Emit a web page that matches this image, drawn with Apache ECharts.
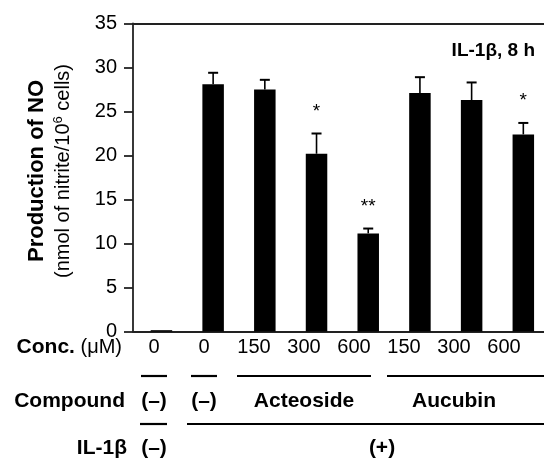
<!DOCTYPE html>
<html>
<head>
<meta charset="utf-8">
<script src="https://cdn.jsdelivr.net/npm/echarts@6/dist/echarts.min.js"></script>
<style>
  html, body { margin: 0; padding: 0; background: #fff; }
  #chart { width: 544px; height: 459px; }
</style>
</head>
<body>
<div id="chart"></div>
<script>
var FONT = '"Liberation Sans", Arial, sans-serif';

// data
var means = [0.15, 28.1, 27.5, 20.2, 11.15, 27.1, 26.3, 22.4];
var errors = [0, 1.3, 1.1, 2.3, 0.55, 1.8, 2.0, 1.3];
var stars = ['', '', '', '*', '**', '', '', '*'];
var concLabels = ['0', '0', '150', '300', '600', '150', '300', '600'];
var compoundLabels = [
  { text: '(–)', from: 0, to: 0 },
  { text: '(–)', from: 1, to: 1 },
  { text: 'Acteoside', from: 2, to: 4 },
  { text: 'Aucubin', from: 5, to: 7 }
];
var il1bLabels = [
  { text: '(–)', from: 0, to: 0 },
  { text: '(+)', from: 1, to: 7 }
];
var yTicks = [0, 5, 10, 15, 20, 25, 30, 35];

var chart = echarts.init(document.getElementById('chart'));

var barData = means.map(function (v, i) { return [i, v]; });
var errData = means.map(function (v, i) { return [i, v, errors[i]]; });
var starData = means.map(function (v, i) { return [i, v + errors[i], stars[i]]; });

// layout of the table below the axis
var colX0 = 154, colStep = 50;
function colX(i) { return colX0 + colStep * i; }
var graphics = [];

function addText(x, y, text, opt) {
  graphics.push({
    type: 'text', x: x, y: y, silent: true,
    style: Object.assign({
      text: text, fill: '#000', font: '20px ' + FONT,
      align: 'center', verticalAlign: 'middle'
    }, opt || {})
  });
  return graphics[graphics.length - 1];
}
function addLine(x1, x2, y) {
  graphics.push({
    type: 'line', silent: true,
    shape: { x1: x1, y1: y, x2: x2, y2: y },
    style: { stroke: '#000', lineWidth: 2.2 }
  });
}
function groupSpan(g, half) {
  var a = colX(g.from) - half;
  var b = g.to === concLabels.length - 1 && g.from !== g.to ? 544 : colX(g.to) + half;
  return [a, b];
}

var BOLD = 'bold 21px ' + FONT;

// row labels
addText(122, 347, '{b|Conc.} (μM)', {
  align: 'right', font: '20px ' + FONT,
  rich: { b: { font: BOLD, fill: '#000' } }
});
addText(125, 401, 'Compound', { align: 'right', font: BOLD });
addText(127, 448, 'IL-1β', { align: 'right', font: BOLD });

concLabels.forEach(function (t, i) { addText(colX(i), 347, t); });

compoundLabels.forEach(function (g) {
  var single = g.from === g.to;
  var s = groupSpan(g, single ? 13 : 17);
  addLine(s[0], s[1], 376);
  addText((colX(g.from) + colX(g.to)) / 2, 401, g.text, { font: BOLD });
});

il1bLabels.forEach(function (g) {
  var single = g.from === g.to;
  var s = single ? [colX(g.from) - 14, colX(g.from) + 13] : [colX(g.from) - 17, 544];
  addLine(s[0], s[1], 424);
  var cx = single ? colX(g.from) : 382;
  addText(cx, 448, g.text, { font: BOLD });
});

// y axis title
addText(37, 171, 'Production of NO', { font: 'bold 22px ' + FONT }).rotation = Math.PI / 2;
addText(63, 171, '(nmol of nitrite/10{s|6} cells)', {
  font: '20px ' + FONT,
  rich: { s: { font: '13px ' + FONT, fill: '#000', verticalAlign: 'top', lineHeight: 23 } }
}).rotation = Math.PI / 2;

var axisLineStyle = { color: '#222', width: 1.8 };

chart.setOption({
  animation: false,
  title: {
    text: 'IL-1β, 8 h',
    right: 4, top: 36,
    textStyle: { fontFamily: FONT, fontSize: 19, fontWeight: 'bold', color: '#000' }
  },
  grid: { left: 133, top: 23.5, right: 0, bottom: 127.5 },
  xAxis: [{
    type: 'value', min: -0.55, max: 7.4,
    axisLine: { show: true, onZero: false, lineStyle: axisLineStyle },
    axisTick: { show: false }, axisLabel: { show: false }, splitLine: { show: false }
  }, {
    type: 'value', position: 'top', min: -0.55, max: 7.4,
    axisLine: { show: true, onZero: false, lineStyle: axisLineStyle },
    axisTick: { show: false }, axisLabel: { show: false }, splitLine: { show: false }
  }],
  yAxis: {
    type: 'value', min: yTicks[0], max: yTicks[yTicks.length - 1], interval: 5,
    axisLine: { show: true, onZero: false, lineStyle: axisLineStyle },
    axisTick: { show: true, length: 9, lineStyle: axisLineStyle },
    axisLabel: { color: '#000', fontFamily: FONT, fontSize: 20, margin: 16 },
    splitLine: { show: false }
  },
  series: [{
    type: 'bar',
    data: barData,
    barWidth: 21.5,
    itemStyle: { color: '#000' },
    z: 2
  }, {
    type: 'custom',
    data: errData,
    z: 3,
    renderItem: function (params, api) {
      var x = api.value(0), v = api.value(1), e = api.value(2);
      if (!e) return null;
      var p0 = api.coord([x, v]);
      var p1 = api.coord([x, v + e]);
      return {
        type: 'group',
        children: [{
          type: 'line',
          shape: { x1: p0[0], y1: p0[1], x2: p1[0], y2: p1[1] },
          style: { stroke: '#000', lineWidth: 1.6 }
        }, {
          type: 'line',
          shape: { x1: p1[0] - 5, y1: p1[1], x2: p1[0] + 5, y2: p1[1] },
          style: { stroke: '#000', lineWidth: 2 }
        }]
      };
    }
  }, {
    type: 'custom',
    data: starData,
    z: 3,
    renderItem: function (params, api) {
      var label = stars[params.dataIndex];
      if (!label) return null;
      var p = api.coord([api.value(0), api.value(1)]);
      return {
        type: 'text',
        style: {
          x: p[0], y: p[1] - 22, text: label,
          font: '19px ' + FONT, fill: '#000',
          align: 'center', verticalAlign: 'middle'
        }
      };
    }
  }],
  graphic: graphics
});
</script>
</body>
</html>
